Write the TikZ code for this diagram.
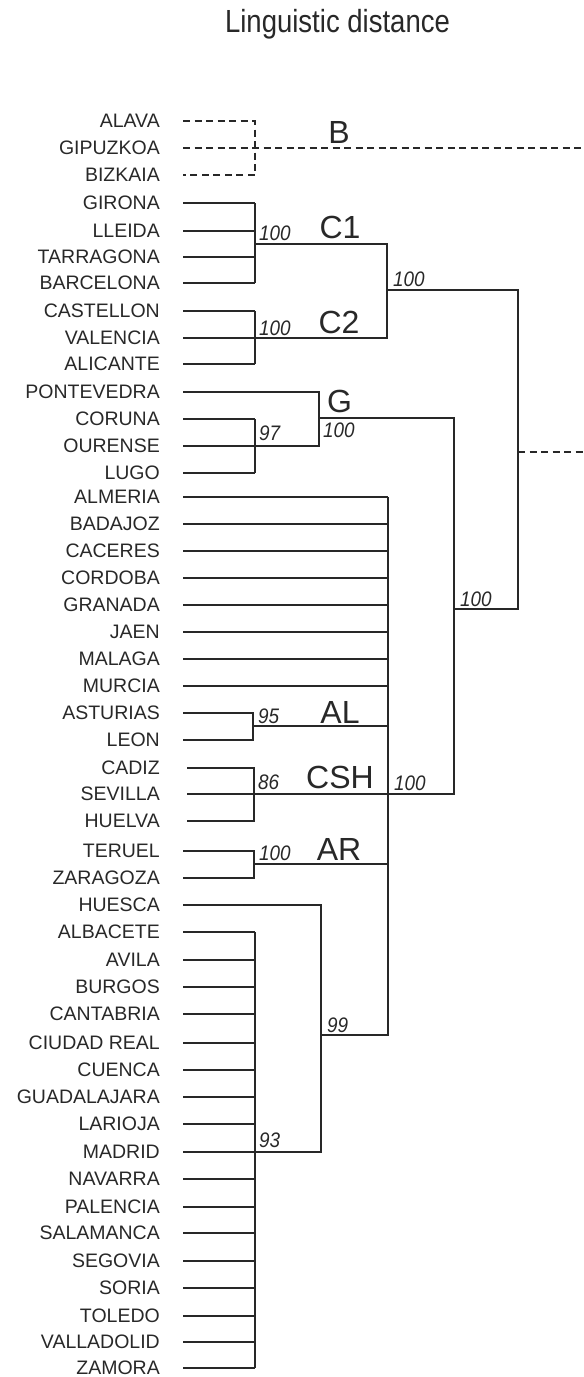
\documentclass[tikz,border=0pt]{standalone}
\usepackage{fontspec}
\setmainfont{Liberation Sans}
\newfontfamily\titlefont[FakeStretch=0.86]{Liberation Sans}
\newfontfamily\bootfont[FakeStretch=0.9]{Liberation Sans}
\definecolor{ink}{RGB}{40,40,40}
\begin{document}
\begin{tikzpicture}[x=1pt,y=-1pt,
  leaf/.style={anchor=base east, inner sep=0pt, text=ink, font=\fontsize{19.5}{20}\selectfont},
  boot/.style={anchor=base west, inner sep=0pt, text=ink, font=\bootfont\itshape\fontsize{21}{21}\selectfont},
  clus/.style={anchor=base, inner sep=0pt, text=ink, font=\fontsize{32}{32}\selectfont},
  titlestyle/.style={anchor=base, inner sep=0pt, text=ink, font=\titlefont\fontsize{32}{32}\selectfont},
  br/.style={draw=ink, line width=1.3pt},
  dsh/.style={draw=ink, line width=1.3pt, dash pattern=on 7pt off 4.5pt}]
\useasboundingbox (0,0) rectangle (584,1377);

\node[titlestyle] (title) at (337.5,32) {Linguistic distance};

\foreach \n/\y/\lab in {0/121/ALAVA,1/148/GIPUZKOA,2/175/BIZKAIA,3/203/GIRONA,4/231/LLEIDA,5/257/TARRAGONA,6/283/BARCELONA,7/311/CASTELLON,8/338/VALENCIA,9/364/ALICANTE,10/392/PONTEVEDRA,11/419/CORUNA,12/446/OURENSE,13/473/LUGO,14/497/ALMERIA,15/524/BADAJOZ,16/551/CACERES,17/578/CORDOBA,18/605/GRANADA,19/632/JAEN,20/659/MALAGA,21/686/MURCIA,22/713/ASTURIAS,23/740/LEON,24/768/CADIZ,25/794/SEVILLA,26/821/HUELVA,27/851/TERUEL,28/878/ZARAGOZA,29/905/HUESCA,30/932/ALBACETE,31/960/AVILA,32/987/BURGOS,33/1014/CANTABRIA,34/1043/CIUDAD REAL,35/1070/CUENCA,36/1097/GUADALAJARA,37/1124/LARIOJA,38/1152/MADRID,39/1179/NAVARRA,40/1207/PALENCIA,41/1233/SALAMANCA,42/1261/SEGOVIA,43/1288/SORIA,44/1316/TOLEDO,45/1342/VALLADOLID,46/1368/ZAMORA}{
  \node[leaf] (n\n) at (160,\y+6.5) {\lab};
  \coordinate (s\n) at (183,\y);
}
\coordinate (s24) at (187,768);
\coordinate (s25) at (187,794);
\coordinate (s26) at (187,821);

% junctions
\coordinate (jB) at (255,148);
\coordinate (eB) at (584,148);
\coordinate (jC1) at (255,244);
\coordinate (jC2) at (255,338);
\coordinate (kC) at (387,290);
\coordinate (rT) at (518,452);
\coordinate (eR) at (584,452);
\coordinate (jG) at (255,446);
\coordinate (kG) at (319,418);
\coordinate (kW) at (454,609);
\coordinate (kM) at (388,794);
\coordinate (jAL) at (253,726);
\coordinate (jCSH) at (254,794);
\coordinate (jAR) at (254,864);
\coordinate (kH) at (321,1035);
\coordinate (jM) at (255,1152);

% B (dashed)
\draw[dsh] (s0) -- (s0 -| jB) -- (s2 -| jB) -- (s2);
\draw[dsh] (s1) -- (eB);
\draw[dsh] (rT) -- (eR);

% C1
\foreach \i in {3,...,6}{\draw[br] (s\i) -- (s\i -| jC1);}
\draw[br] (s3 -| jC1) -- (s6 -| jC1);
% C2
\foreach \i in {7,...,9}{\draw[br] (s\i) -- (s\i -| jC2);}
\draw[br] (s7 -| jC2) -- (s9 -| jC2);
\draw[br] (jC1) -- (jC1 -| kC) -- (jC2 -| kC) -- (jC2);
% root side
\draw[br] (kC) -- (kC -| rT) -- (kW -| rT) -- (kW);
% G
\draw[br] (s10) -- (s10 -| kG) -- (jG -| kG) -- (jG);
\foreach \i in {11,...,13}{\draw[br] (s\i) -- (s\i -| jG);}
\draw[br] (s11 -| jG) -- (s13 -| jG);
\draw[br] (kG) -- (kG -| kW) -- (kM -| kW) -- (kM);
% main cluster
\foreach \i in {14,...,21}{\draw[br] (s\i) -- (s\i -| kM);}
\draw[br] (s14 -| kM) -- (kH -| kM) -- (kH);
% AL
\draw[br] (s22) -- (s22 -| jAL) -- (s23 -| jAL) -- (s23);
\draw[br] (jAL) -- (jAL -| kM);
% CSH
\draw[br] (s24) -- (s24 -| jCSH) -- (s26 -| jCSH) -- (s26);
\draw[br] (s25) -- (jCSH) -- (kM);
% AR
\draw[br] (s27) -- (s27 -| jAR) -- (s28 -| jAR) -- (s28);
\draw[br] (jAR) -- (jAR -| kM);
% Huesca + big group
\draw[br] (s29) -- (s29 -| kH) -- (jM -| kH) -- (jM);
\foreach \i in {30,...,46}{\draw[br] (s\i) -- (s\i -| jM);}
\draw[br] (s30 -| jM) -- (s46 -| jM);

% bootstrap values
\node[boot] (b1) at (259,240) {100};
\node[boot] (b2) at (259,335) {100};
\node[boot] (b3) at (393,286) {100};
\node[boot] (b4) at (259,440) {97};
\node[boot] (b5) at (323,437) {100};
\node[boot] (b6) at (460,606) {100};
\node[boot] (b7) at (258,723) {95};
\node[boot] (b8) at (258,789) {86};
\node[boot] (b9) at (394,790) {100};
\node[boot] (b10) at (259,860) {100};
\node[boot] (b11) at (327,1032) {99};
\node[boot] (b12) at (259,1147) {93};

% cluster labels
\node[clus] (cB) at (339,143) {B};
\node[clus] (cC1) at (340,238) {C1};
\node[clus] (cC2) at (339,333) {C2};
\node[clus] (cG) at (339.5,412) {G};
\node[clus] (cAL) at (340,723) {AL};
\node[clus] (cCSH) at (340,788) {CSH};
\node[clus] (cAR) at (339,860) {AR};
\end{tikzpicture}
\end{document}
